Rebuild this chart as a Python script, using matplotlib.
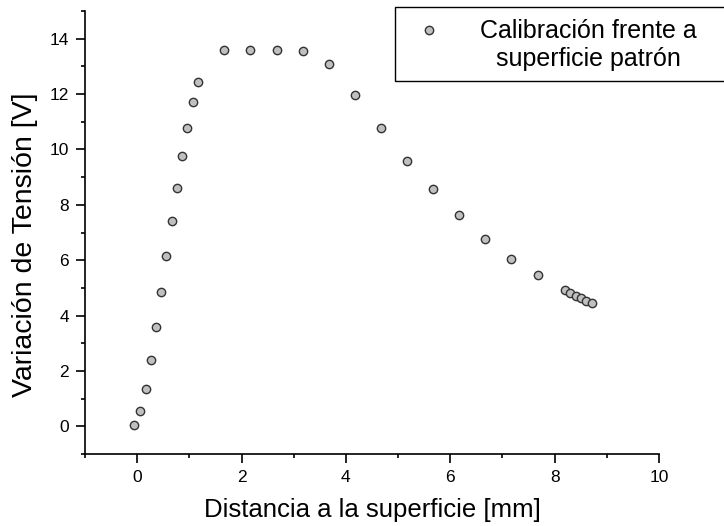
import matplotlib
matplotlib.use("Agg")
import matplotlib.pyplot as plt
from matplotlib.ticker import MultipleLocator
from matplotlib.patches import Rectangle
from matplotlib.lines import Line2D

plt.rcParams['font.family'] = ['Liberation Sans', 'DejaVu Sans']

# Calibration data
distancia = [-0.06, 0.06, 0.17, 0.27, 0.36, 0.46, 0.56, 0.67, 0.77, 0.86,
             0.96, 1.07, 1.17, 1.67, 2.17, 2.68, 3.18, 3.68, 4.18, 4.67,
             5.17, 5.67, 6.17, 6.67, 7.16, 7.68, 8.20, 8.30, 8.41, 8.51,
             8.61, 8.71]
tension = [0.04, 0.54, 1.34, 2.38, 3.57, 4.84, 6.14, 7.40, 8.59, 9.75,
           10.79, 11.70, 12.45, 13.60, 13.60, 13.60, 13.57, 13.10, 11.95, 10.76,
           9.60, 8.56, 7.62, 6.75, 6.06, 5.45, 4.91, 4.81, 4.72, 4.63,
           4.54, 4.44]
etiqueta = "Calibración frente a\nsuperficie patrón"

W, H = 724, 526
fig = plt.figure(figsize=(W / 100, H / 100), dpi=100)
# axes box in pixels: left 85, right 659, top 11, bottom 454
ax = fig.add_axes([85 / W, (H - 454) / H, 574 / W, 443 / H])

estilo = dict(linestyle='none', marker='o', ms=6, mfc='#c0c0c0',
              mec='#333333', mew=1.0)
ax.plot(distancia, tension, **estilo)

ax.set_xlim(-1, 10)
ax.set_ylim(-1, 15)
ax.xaxis.set_minor_locator(MultipleLocator(1))
ax.yaxis.set_minor_locator(MultipleLocator(1))
ax.set_xticks([0, 2, 4, 6, 8, 10])
ax.set_yticks([0, 2, 4, 6, 8, 10, 12, 14])
ax.tick_params(which='major', direction='out', length=6.5, width=1.2,
               labelsize=12.5, pad=5)
ax.tick_params(which='minor', direction='out', length=3, width=1.2)
for s in ['top', 'right']:
    ax.spines[s].set_visible(False)
for s in ['left', 'bottom']:
    ax.spines[s].set_linewidth(1.2)

ax.set_xlabel("Distancia a la superficie [mm]", fontsize=18.5)
ax.set_ylabel("Variación de Tensión [V]", fontsize=20.5)
ax.xaxis.set_label_coords(0.5, -0.099)
ax.yaxis.set_label_coords(-0.082, 0.472)

# legend box, runs off the right edge like the original
fig.patches.append(Rectangle((395 / W, 1 - 81 / H), 340 / W, 74 / H,
                             transform=fig.transFigure, fill=False,
                             edgecolor='black', linewidth=1.0))
fig.add_artist(Line2D([429 / W], [1 - 30 / H], transform=fig.transFigure,
                      **estilo))
fig.text(588 / W, 1 - 45 / H, etiqueta, fontsize=18, ha='center',
         va='center', multialignment='center', linespacing=1.2)

fig.savefig("out.png", dpi=100)
